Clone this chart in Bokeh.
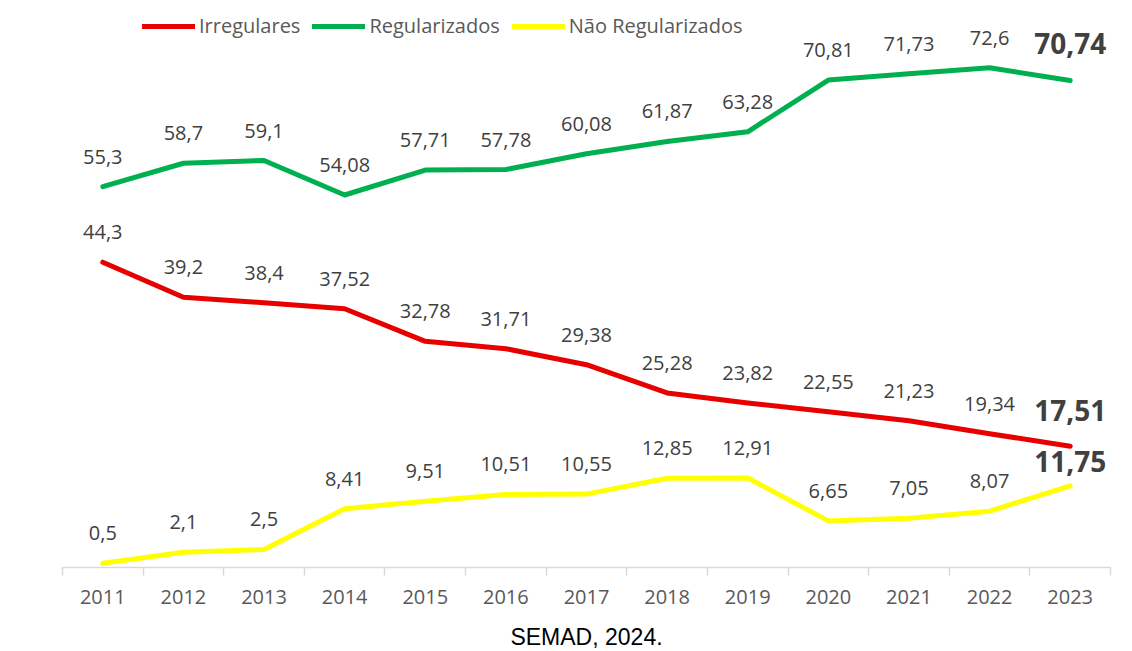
from bokeh.plotting import figure
from bokeh.models import Range1d, FixedTicker, Title, Legend, LegendItem, ColumnDataSource
from bokeh.core.properties import value
from bokeh.embed import file_html
from bokeh.resources import INLINE

years = ["2011", "2012", "2013", "2014", "2015", "2016", "2017",
         "2018", "2019", "2020", "2021", "2022", "2023"]
irregulares = [44.3, 39.2, 38.4, 37.52, 32.78, 31.71, 29.38, 25.28, 23.82, 22.55, 21.23, 19.34, 17.51]
regularizados = [55.3, 58.7, 59.1, 54.08, 57.71, 57.78, 60.08, 61.87, 63.28, 70.81, 71.73, 72.6, 70.74]
nao_regularizados = [0.5, 2.1, 2.5, 8.41, 9.51, 10.51, 10.55, 12.85, 12.91, 6.65, 7.05, 8.07, 11.75]
series_names = ["Irregulares", "Regularizados", "Não Regularizados"]
series_colors = ["#E80000", "#00B050", "#FFFF00"]
caption = "SEMAD, 2024."

FONT = "Open Sans"
LABEL_COLOR = "#404040"

x_idx = list(range(len(years)))

p = figure(frame_width=1048, frame_height=557, output_backend="svg", toolbar_location=None,
           x_range=Range1d(-0.5, len(years) - 0.5), y_range=Range1d(-0.13, 80.93),
           min_border_left=62, min_border_right=14, min_border_top=10, min_border_bottom=0,
           y_axis_location=None)
p.outline_line_color = None
p.xgrid.visible = False
p.ygrid.visible = False
p.background_fill_color = "white"
p.border_fill_color = "white"

ax = p.xaxis[0]
ax.ticker = FixedTicker(ticks=x_idx, minor_ticks=[i - 0.5 for i in range(len(years) + 1)])
ax.major_label_overrides = {i: y for i, y in enumerate(years)}
ax.major_tick_line_color = None
ax.major_tick_in = 0
ax.major_tick_out = 0
ax.minor_tick_line_color = "#D9D9D9"
ax.minor_tick_line_width = 1.5
ax.minor_tick_in = 0
ax.minor_tick_out = 8
ax.axis_line_color = "#D9D9D9"
ax.axis_line_width = 1.5
ax.major_label_standoff = 14
ax.major_label_text_font = FONT
ax.major_label_text_font_size = "20px"
ax.major_label_text_color = "#595959"

items = []
all_series = [irregulares, regularizados, nao_regularizados]
last_offsets = [-36, -37, -24]
for name, vals, col, loff in zip(series_names, all_series, series_colors, last_offsets):
    src = ColumnDataSource(dict(x=x_idx, y=vals))
    r = p.line("x", "y", source=src, line_color=col, line_width=5,
               line_join="round", line_cap="round")
    items.append(LegendItem(label=name, renderers=[r]))
    lbl = ColumnDataSource(dict(x=x_idx[:-1], y=vals[:-1],
                                t=[str(v).replace(".", ",") for v in vals[:-1]]))
    p.text("x", "y", text="t", source=lbl, y_offset=-30, text_align="center",
           text_baseline="middle", text_font=value(FONT), text_font_size="20px",
           text_color=LABEL_COLOR)
    last = ColumnDataSource(dict(x=x_idx[-1:], y=vals[-1:],
                                 t=[str(v).replace(".", ",") for v in vals[-1:]]))
    p.text("x", "y", text="t", source=last, y_offset=loff, text_align="center",
           text_baseline="middle", text_font=value(FONT), text_font_size="28px",
           text_font_style="bold", text_color=LABEL_COLOR)

legend = Legend(items=items, orientation="horizontal", location=(80, 528),
                glyph_width=53, glyph_height=20, label_standoff=4, spacing=12,
                padding=0, margin=0, border_line_color=None, background_fill_alpha=0,
                label_text_font=FONT, label_text_font_size="20px",
                label_text_color="#595959")
p.add_layout(legend)

cap = Title(text=caption, align="center", text_font="Liberation Sans",
            text_font_size="23px", text_font_style="normal", text_color="black",
            standoff=30, offset=-3)
p.add_layout(cap, "below")

open("out.html", "w").write(file_html(p, INLINE))
